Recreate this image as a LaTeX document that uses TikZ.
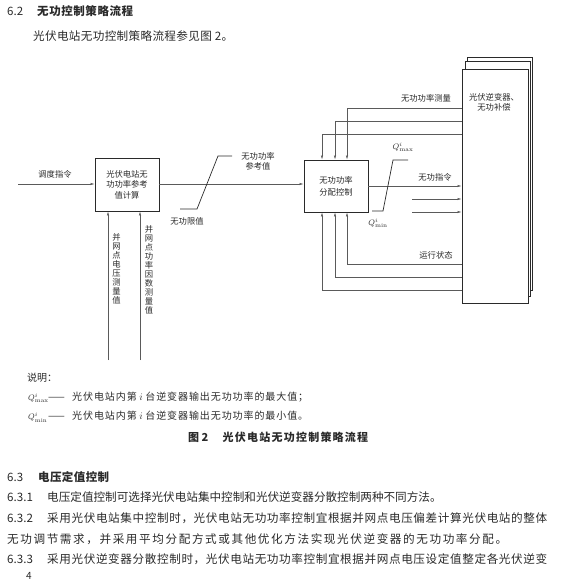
\documentclass[tikz,border=0pt]{standalone}
\usepackage{fontspec}
\newfontfamily\cjk{Noto Sans CJK SC}
\usepackage{tikz}
\usetikzlibrary{arrows.meta, positioning, calc}
\usepackage{xcolor}
\definecolor{InkBlack}{HTML}{2A2A2A}
\definecolor{WireGray}{HTML}{5A5A5A}
\newcommand{\BodyFont}{\cjk\fontsize{11.6pt}{13pt}\selectfont}
\newcommand{\HeadFont}{\cjk\fontsize{11.5pt}{14pt}\selectfont}
\newcommand{\DiagFont}{\cjk\fontsize{8.3pt}{10.5pt}\selectfont}
\newcommand{\VertFont}{\cjk\fontsize{8.3pt}{9pt}\selectfont}
\newcommand{\NoteFont}{\cjk\fontsize{10pt}{12pt}\selectfont}
\newcommand{\CapFont}{\cjk\bfseries\fontsize{11pt}{13pt}\selectfont}
\newcommand{\QFont}{\fontsize{8pt}{9pt}\selectfont}
% spread a run of characters over a given width
\newcommand{\spreadtext}[2]{\hbox to #1{\SpreadFirst#2\relax}}
\def\SpreadFirst#1{#1\SpreadRest}
\def\SpreadRest#1{\ifx#1\relax\else\hfil#1\expandafter\SpreadRest\fi}
\def\FigTwo{\ 2}
\def\VarI{\,$i$\,}

\begin{document}
\begin{tikzpicture}[x=1pt, y=-1pt,
  blk/.style={draw=InkBlack, line width=0.8pt, fill=white, inner sep=0pt, text=InkBlack, font=\DiagFont, align=center},
  wire/.style={draw=WireGray, line width=0.5pt},
  arr/.style={wire, -{Latex[length=4pt,width=2.2pt]}},
  lbl/.style={text=InkBlack, font=\DiagFont, align=center, inner sep=0pt},
  body/.style={text=InkBlack, font=\BodyFont, anchor=base west, inner sep=0pt}]
  \useasboundingbox (0,0) rectangle (560,580);

  % section 6.2
  \node[body, font=\HeadFont] (h62) at (7,15.6) {6.2};
  \node[body, font=\HeadFont\bfseries] (h62t) at (37,15.6) {\spreadtext{96pt}{无功控制策略流程}};
  \node[body] (intro) at (33,40.2) {\spreadtext{200pt}{光伏电站无功控制策略流程参见图\FigTwo。}};

  % blocks
  \node[blk, minimum width=64pt, minimum height=53pt] (calc) at (127,184.5) {光伏电站无\\功功率参考\\值计算};
  \node[blk, minimum width=64pt, minimum height=52pt] (alloc) at (336,186) {无功功率\\[1.5pt]分配控制};
  \node[blk, minimum width=65pt, minimum height=233pt] (inv3) at (499.5,173.5) {};
  \node[blk, minimum width=65pt, minimum height=235pt] (inv2) at (497.5,178.5) {};
  \node[blk, minimum width=66pt, minimum height=234pt] (inv) at (495,186) {};
  \node[lbl] (invtxt) at (494,102.5) {光伏逆变器、\\无功补偿};

  % dispatch and reference value
  \coordinate (cmd) at (18,184);
  \draw[arr] (cmd) -- (cmd -| calc.west);
  \node[lbl] (cmdtxt) at (55,174) {调度指令};
  \draw[arr] (calc.east |- cmd) -- (cmd -| alloc.west);
  \draw[InkBlack, line width=0.7pt] (180,209) -- (197,209) -- (218,156) -- (232,156);
  \node[lbl] (reftxt) at (258,161.5) {无功功率\\参考值};
  \node[lbl] (limtxt) at (187,221) {无功限值};

  % measured values
  \coordinate (vm) at (108,360);
  \coordinate (pf) at (140,360);
  \draw[arr] (vm) -- (vm |- calc.south);
  \draw[arr] (pf) -- (pf |- calc.south);
  \node[lbl, font=\VertFont] (vmtxt) at (116.5,268.5) {并\\网\\点\\电\\压\\测\\量\\值};
  \node[lbl, font=\VertFont] (pftxt) at (149,270) {并\\网\\点\\功\\率\\因\\数\\测\\量\\值};

  % feedback from the inverters
  \foreach \x/\y [count=\k] in {347/108,335/121,322/134} {
    \coordinate (up\k) at (\x,\y);
    \draw[arr] (up\k -| inv.west) -- (up\k) -- (up\k |- alloc.north);
  }
  \foreach \x/\y [count=\k] in {347/264,335/277,322/290} {
    \coordinate (dn\k) at (\x,\y);
    \draw[arr] (dn\k -| inv.west) -- (dn\k) -- (dn\k |- alloc.south);
  }
  \node[lbl] (meastxt) at (426,98) {无功功率测量};
  \node[lbl] (statetxt) at (436,255) {运行状态};

  % commands to the inverters
  \draw[arr] (alloc.east) -- (alloc.east -| inv.west);
  \node[lbl] (cmdq) at (435,177) {无功指令};
  \foreach \y [count=\k] in {199,212} {
    \coordinate (oc\k) at (412,\y);
    \draw[arr] (oc\k) -- (oc\k -| inv.west);
  }
  \draw[InkBlack, line width=0.7pt] (372,211) -- (383,211) -- (393,160) -- (408,160);
  \node[lbl, font=\QFont] (qmax) at (403,147) {$Q^{i}_{\max}$};
  \node[lbl, font=\QFont] (qmin) at (378,223) {$Q^{i}_{\min}$};

  % notes and caption
  \node[body, font=\NoteFont] (note) at (27,381.6) {说明：};
  \node[body, font=\fontsize{8.5pt}{10pt}\selectfont] (qmaxn) at (28,400.6) {$Q^{i}_{\max}$};
  \node[body, font=\NoteFont] (dmax) at (48,400.6) {——};
  \node[body, font=\NoteFont] (nmax) at (72,400.6) {\spreadtext{236pt}{光伏电站内第\VarI 台逆变器输出无功功率的最大值；}};
  \node[body, font=\fontsize{8.5pt}{10pt}\selectfont] (qminn) at (28,419.6) {$Q^{i}_{\min}$};
  \node[body, font=\NoteFont] (dmin) at (48,419.6) {——};
  \node[body, font=\NoteFont] (nmin) at (72,419.6) {\spreadtext{236pt}{光伏电站内第\VarI 台逆变器输出无功功率的最小值。}};
  \node[body, font=\CapFont] (capno) at (188,441) {图 2};
  \node[body, font=\CapFont] (cap) at (222.5,441) {\spreadtext{145.5pt}{光伏电站无功控制策略流程}};

  % section 6.3
  \node[body, font=\HeadFont] (h63) at (7,481.4) {6.3};
  \node[body, font=\HeadFont\bfseries] (h63t) at (38,481.4) {\spreadtext{71pt}{电压定值控制}};
  \node[body] (n631) at (7,501.2) {6.3.1};
  \node[body] (p631) at (47,501.2) {电压定值控制可选择光伏电站集中控制和光伏逆变器分散控制两种不同方法。};
  \node[body] (n632) at (7,522.2) {6.3.2};
  \node[body] (p632a) at (47,522.2) {\spreadtext{500pt}{采用光伏电站集中控制时，光伏电站无功功率控制宜根据并网点电压偏差计算光伏电站的整体}};
  \node[body] (p632b) at (7,543) {\spreadtext{500pt}{无功调节需求，并采用平均分配方式或其他优化方法实现光伏逆变器的无功功率分配。}};
  \node[body] (n633) at (7,563.2) {6.3.3};
  \node[body] (p633) at (47,563.2) {\spreadtext{500pt}{采用光伏逆变器分散控制时，光伏电站无功功率控制宜根据并网点电压设定值整定各光伏逆变}};
  \node[body, font=\NoteFont] (pg) at (26,579) {4};
\end{tikzpicture}
\end{document}
